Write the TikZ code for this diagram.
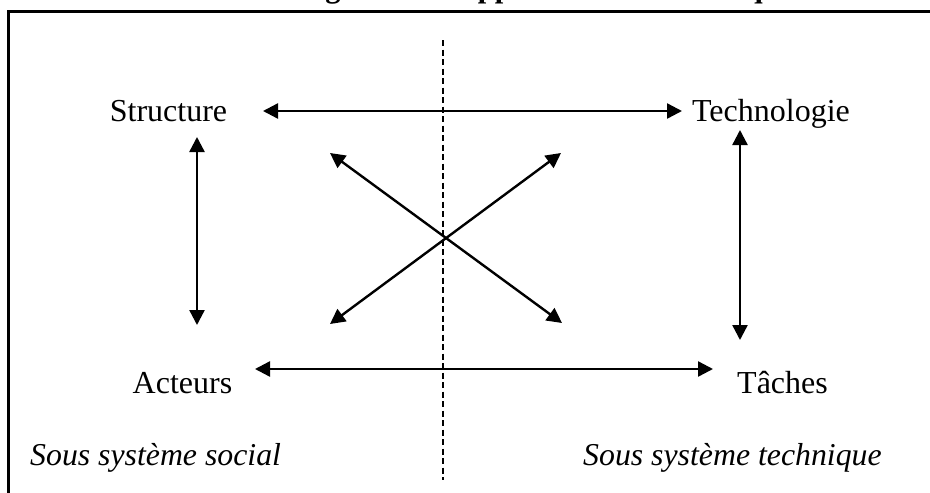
\documentclass[tikz,border=0pt]{standalone}
\usepackage{fontspec}
\setmainfont{Liberation Serif}
\usetikzlibrary{arrows.meta}
\begin{document}
\begin{tikzpicture}[x=1pt,y=-1pt,
  lbl/.style={inner sep=0pt,anchor=base,font=\fontsize{32}{38}\selectfont},
  sublbl/.style={inner sep=0pt,anchor=base west,font=\fontsize{31.8}{38}\selectfont\itshape},
  link/.style={line width=2.4pt,{Triangle[length=15pt,width=15pt]}-{Triangle[length=15pt,width=15pt]}},
  divider/.style={line width=1.8pt,dash pattern=on 6pt off 3.5pt},
  frame/.style={line width=2.5pt}]
\useasboundingbox (0,0) rectangle (930,493);

% heading above the frame (only its lower part falls on the page)
\begin{scope}
  \clip (0,0) rectangle (930,9);
  \node[inner sep=0pt,anchor=base west,font=\fontsize{30.5}{36}\selectfont\bfseries] (title) at (298,-2.5)
    {Figure 1 : L'approche socio-technique};
\end{scope}

% frame
\draw[frame] (8.7,493) -- (8.7,11.4) -- (930,11.4);

% social / technical divide
\coordinate (dtop) at (443,40);
\coordinate (dbot) at (443,480);
\draw[divider] (dtop) -- (dbot);

% the four components
\node[lbl] (structure) at (168.5,121) {Structure};
\node[lbl] (techno) at (771,121) {Technologie};
\node[lbl] (acteurs) at (182.5,393) {Acteurs};
\node[lbl] (taches) at (782.5,393) {Tâches};

% subsystem captions
\node[sublbl] (social) at (30,465) {Sous système social};
\node[sublbl] (technique) at (583,465) {Sous système technique};

% arrow ends
\coordinate (sE) at (263,111);
\coordinate (tW) at (682,111);
\coordinate (aE) at (255,369);
\coordinate (qW) at (713,369);
\coordinate (sS) at (197,137);
\coordinate (aN) at (197,325);
\coordinate (tS) at (740,130);
\coordinate (qN) at (740,340);
\coordinate (sX) at (330,153);
\coordinate (qX) at (562,323);
\coordinate (aX) at (330,324);
\coordinate (tX) at (561,153);

% interactions
\draw[link] (sE) -- (tW);
\draw[link] (aE) -- (qW);
\draw[link] (sS) -- (aN);
\draw[link] (tS) -- (qN);
\draw[link] (sX) -- (qX);
\draw[link] (aX) -- (tX);
\end{tikzpicture}
\end{document}
